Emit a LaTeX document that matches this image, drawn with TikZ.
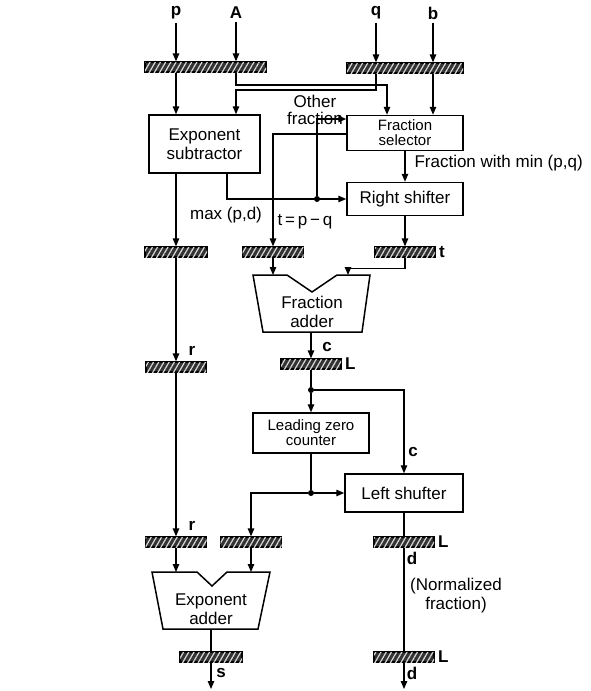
\documentclass[tikz,border=0pt]{standalone}
\usepackage{fontspec}
\setmainfont{Liberation Sans}
\usetikzlibrary{arrows.meta,positioning,patterns.meta}

\begin{document}
\begin{tikzpicture}[x=1pt,y=-1pt,
  font=\fontsize{17}{19}\selectfont,
  fu/.style={draw,line width=1.5pt,align=center,inner sep=2pt},
  sm/.style={font=\fontsize{15}{15}\selectfont},
  bit/.style={font=\fontsize{17}{19}\selectfont\bfseries},
  adder/.style={draw,line width=1.5pt,line join=miter},
  reg/.style={draw,line width=1.3pt,fill=black!80,minimum height=10pt,inner sep=0pt,
              postaction={pattern={Lines[angle=60,distance=4.5pt,line width=1.2pt]},pattern color=white!85!black}},
  a/.style={-{Triangle[length=8pt,width=6.5pt]},line width=1.3pt},
  ln/.style={line width=1.3pt},
  dot/.style={circle,fill,inner sep=0pt,minimum size=6pt}
]
\useasboundingbox (0,0) rectangle (591,691);

% inputs
\node[bit] (p) at (176,13) {p};
\node[bit] (A) at (236,13) {A};
\node[bit] (q) at (376,13) {q};
\node[bit] (b) at (433,13) {b};
\node[reg,minimum width=121pt] (rA) at (205.5,67) {};
\node[reg,minimum width=116pt] (rB) at (405,68) {};

% exponent subtractor and fraction path
\node[fu,minimum width=111pt,minimum height=58pt] (sub) at (204.5,144) {Exponent\\subtractor};
\node[fu,sm,minimum width=116pt,minimum height=35pt] (sel) at (405,133) {Fraction\\selector};
\node[fu,minimum width=116pt,minimum height=33pt] (rsh) at (405,199) {Right shifter};
\node[dot] (d1) at (317,199) {};

\draw[a] (p) -- (p |- rA.north);
\draw[a] (A) -- (A |- rA.north);
\draw[a] (q) -- (q |- rB.north);
\draw[a] (b) -- (b |- rB.north);
\draw[a] (p |- rA.south) -- (p |- sub.north);
\draw[a] (A |- rA.south) -- (236,85) -| ([xshift=-18pt]sel.north);
\draw[a] (q |- rB.south) -- (376,90) -| (A |- sub.north);
\draw[a] (b |- rB.south) -- (b |- sel.north);

% second register row
\node[reg,minimum width=62pt] (r2l) at (176,252) {};
\node[reg,minimum width=61pt] (r2m) at (273,252) {};
\node[reg,minimum width=60pt] (r2r) at (405,252) {};
\node[bit,right] (lt) at (r2r.east) {t};

\draw[a] (p |- sub.south) -- (r2l.north);
\draw[a] ([xshift=22.5pt]sub.south) |- (rsh.west);
\draw[a] (d1) |- ([yshift=14pt]sel.west);
\draw[a] ([yshift=-1pt]sel.west) -| (r2m.north);
\draw[a] (sel) -- (rsh);
\draw[a] (rsh) -- (r2r);

\node[align=center,font=\fontsize{17}{17}\selectfont] (oth) at (315,110) {Other\\fraction};
\node[right] (fmin) at (411,163) {Fraction with min (p,q)};
\node (mx) at (226,215) {max (p,d)};
\node (tpq) at (305,222) {t\,=\,p\,−\,q};

% fraction adder
\draw[adder] (253,275) -- (287,275) -- (312,292) -- (337,275) -- (370,275)
  -- (362,332) -- (263,332) -- cycle;
\node[align=center] (fadd) at (312,312) {Fraction\\adder};
\coordinate (fa1) at (273,275);
\coordinate (fa2) at (348,275);
\coordinate (fao) at (311,332);
\draw[a] (r2m) -- (fa1);
\draw[a] (r2r.south) -- ++(0,11) -| (fa2);

\node[reg,minimum width=60pt] (r3m) at (311,364) {};
\node[reg,minimum width=60pt] (r3l) at (176,367) {};
\draw[a] (fao) -- (r3m.north);
\draw[a] (r2l) -- (r3l);
\node[bit] (lc1) at (327,347) {c};
\node[bit,right] (lL1) at (r3m.east) {L};
\node[bit] (lr1) at (192,351) {r};

% normalisation
\node[dot] (d2) at (311,390) {};
\node[fu,sm,minimum width=116pt,minimum height=40pt] (lzc) at (311,433) {Leading zero\\counter};
\node[fu,minimum width=118pt,minimum height=38pt] (lsh) at (404,493) {Left shufter};
\node[dot] (d3) at (311,493) {};
\draw[ln] (r3m) -- (d2);
\draw[a] (d2) -- (lzc);
\draw[a] (d2) -| (lsh.north);
\node[bit] (lc2) at (413,452) {c};
\draw[ln] (lzc) -- (d3);
\draw[a] (d3) -- (lsh.west);

% fourth register row
\node[reg,minimum width=61pt] (r4l) at (176,542) {};
\node[reg,minimum width=61pt] (r4m) at (251,542) {};
\node[reg,minimum width=60pt] (r4r) at (404,542) {};
\draw[a] (d3) -| (r4m.north);
\draw[a] (r3l) -- (r4l);
\draw[ln] (lsh) -- (r4r);
\node[bit] (lr2) at (192,526) {r};
\node[bit,right] (lL2) at (r4r.east) {L};
\node[bit] (ld1) at (412,558) {d};
\node[align=center] (nf) at (456,596) {(Normalized\\fraction)};

% exponent adder
\draw[adder] (152,572) -- (197,572) -- (212,586) -- (227,572) -- (270,572)
  -- (258,629) -- (163,629) -- cycle;
\node[align=center] (eadd) at (211,609) {Exponent\\adder};
\coordinate (ea1) at (176,572);
\coordinate (ea2) at (251,572);
\coordinate (eao) at (211,629);
\draw[a] (r4l) -- (ea1);
\draw[a] (r4m) -- (ea2);

% outputs
\node[reg,minimum width=62pt] (r5l) at (211,657) {};
\node[reg,minimum width=60pt] (r5r) at (404,657) {};
\coordinate (out1) at (211,689);
\coordinate (out2) at (404,689);
\draw[ln] (eao) -- (r5l);
\draw[a] (r5l) -- (out1);
\draw[ln] (r4r) -- (r5r);
\draw[a] (r5r) -- (out2);
\node[bit] (ls) at (221,673) {s};
\node[bit,right] (lL3) at (r5r.east) {L};
\node[bit] (ld2) at (412,673) {d};
\end{tikzpicture}
\end{document}
